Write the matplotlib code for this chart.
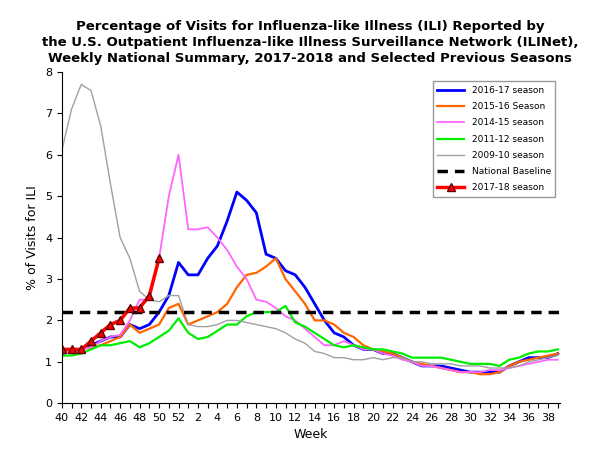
import matplotlib
matplotlib.use("Agg")
import matplotlib.pyplot as plt
import numpy as np

weeks = list(range(40, 53)) + list(range(1, 40))

s1617 = [1.2,1.25,1.3,1.4,1.5,1.6,1.6,1.9,1.8,1.9,2.2,2.6,3.4,3.1,3.1,3.5,3.8,4.4,5.1,4.9,4.6,3.6,3.5,3.2,3.1,2.8,2.4,2.0,1.7,1.6,1.4,1.3,1.3,1.2,1.2,1.1,1.0,0.9,0.9,0.9,0.85,0.8,0.75,0.75,0.75,0.75,0.9,1.0,1.1,1.1,1.1,1.2]
s1516 = [1.2,1.25,1.3,1.35,1.4,1.5,1.6,1.9,1.7,1.8,1.9,2.3,2.4,1.9,2.0,2.1,2.2,2.4,2.8,3.1,3.15,3.3,3.5,3.0,2.7,2.4,2.0,2.0,1.9,1.7,1.6,1.4,1.3,1.25,1.2,1.1,1.0,0.95,0.9,0.85,0.8,0.75,0.75,0.7,0.7,0.75,0.9,1.0,1.05,1.1,1.15,1.2]
s1415 = [1.2,1.25,1.3,1.35,1.5,1.6,1.65,2.0,2.5,2.5,3.5,5.0,6.0,4.2,4.2,4.25,4.0,3.7,3.3,3.0,2.5,2.45,2.3,2.1,2.0,1.8,1.6,1.4,1.4,1.5,1.4,1.3,1.3,1.2,1.15,1.05,1.0,0.9,0.9,0.85,0.8,0.75,0.75,0.75,0.8,0.8,0.85,0.9,0.95,1.0,1.05,1.05]
s1112 = [1.15,1.15,1.2,1.3,1.4,1.4,1.45,1.5,1.35,1.45,1.6,1.75,2.05,1.7,1.55,1.6,1.75,1.9,1.9,2.1,2.2,2.2,2.2,2.35,1.95,1.85,1.7,1.55,1.4,1.35,1.4,1.35,1.3,1.3,1.25,1.2,1.1,1.1,1.1,1.1,1.05,1.0,0.95,0.95,0.95,0.9,1.05,1.1,1.2,1.25,1.25,1.3]
s0910 = [6.1,7.1,7.7,7.55,6.7,5.3,4.0,3.5,2.7,2.5,2.45,2.6,2.6,1.9,1.85,1.85,1.9,2.0,2.0,1.95,1.9,1.85,1.8,1.7,1.55,1.45,1.25,1.2,1.1,1.1,1.05,1.05,1.1,1.05,1.1,1.1,1.0,1.0,0.95,0.95,0.95,0.9,0.9,0.9,0.85,0.85,0.85,0.9,1.0,1.05,1.1,1.15]
s1718 = [1.3,1.3,1.3,1.5,1.7,1.9,2.0,2.3,2.3,2.6,3.5]
baseline = 2.2

x = np.arange(len(weeks))
fig = plt.figure(figsize=(6, 4.5), dpi=100)
ax = fig.add_axes([0.103, 0.104, 0.83, 0.736])
ax.plot(x, s1617, color="#0000ff", lw=2, label="2016-17 season")
ax.plot(x, s1516, color="#ff6600", lw=1.6, label="2015-16 Season")
ax.plot(x, s1415, color="#ff66ff", lw=1.3, label="2014-15 season")
ax.plot(x, s1112, color="#00ee00", lw=1.6, label="2011-12 season")
ax.plot(x, s0910, color="#a0a0a0", lw=1.0, label="2009-10 season")
ax.axhline(baseline, color="black", lw=2.5, ls=(0, (3, 2)), label="National Baseline")
ax.plot(x[:len(s1718)], s1718, color="red", lw=2.5, marker="^", ms=6, mfc="red", mec="#600000", label="2017-18 season")

ax.set_xlim(0, len(weeks) - 0.8)
ax.set_ylim(0, 8)
ax.set_xticks(x)
ax.set_xticklabels([str(w) if i % 2 == 0 else "" for i, w in enumerate(weeks)], fontsize=8)
ax.tick_params(axis="y", labelsize=8)
ax.set_xlabel("Week", fontsize=9)
ax.set_ylabel("% of Visits for ILI", fontsize=9)
for s in ["top", "right"]:
    ax.spines[s].set_visible(False)
ax.legend(loc="upper right", bbox_to_anchor=(1.0, 0.985), fontsize=6.5, frameon=True, fancybox=False,
          edgecolor="#808080", handlelength=3.0, labelspacing=0.8, borderpad=0.5)
fig.text(0.517, 0.905, "Percentage of Visits for Influenza-like Illness (ILI) Reported by\n"
         "the U.S. Outpatient Influenza-like Illness Surveillance Network (ILINet),\n"
         "Weekly National Summary, 2017-2018 and Selected Previous Seasons",
         ha="center", va="center", fontsize=9.5, linespacing=1.3, fontweight="semibold")
fig.savefig("out.png", dpi=100)
